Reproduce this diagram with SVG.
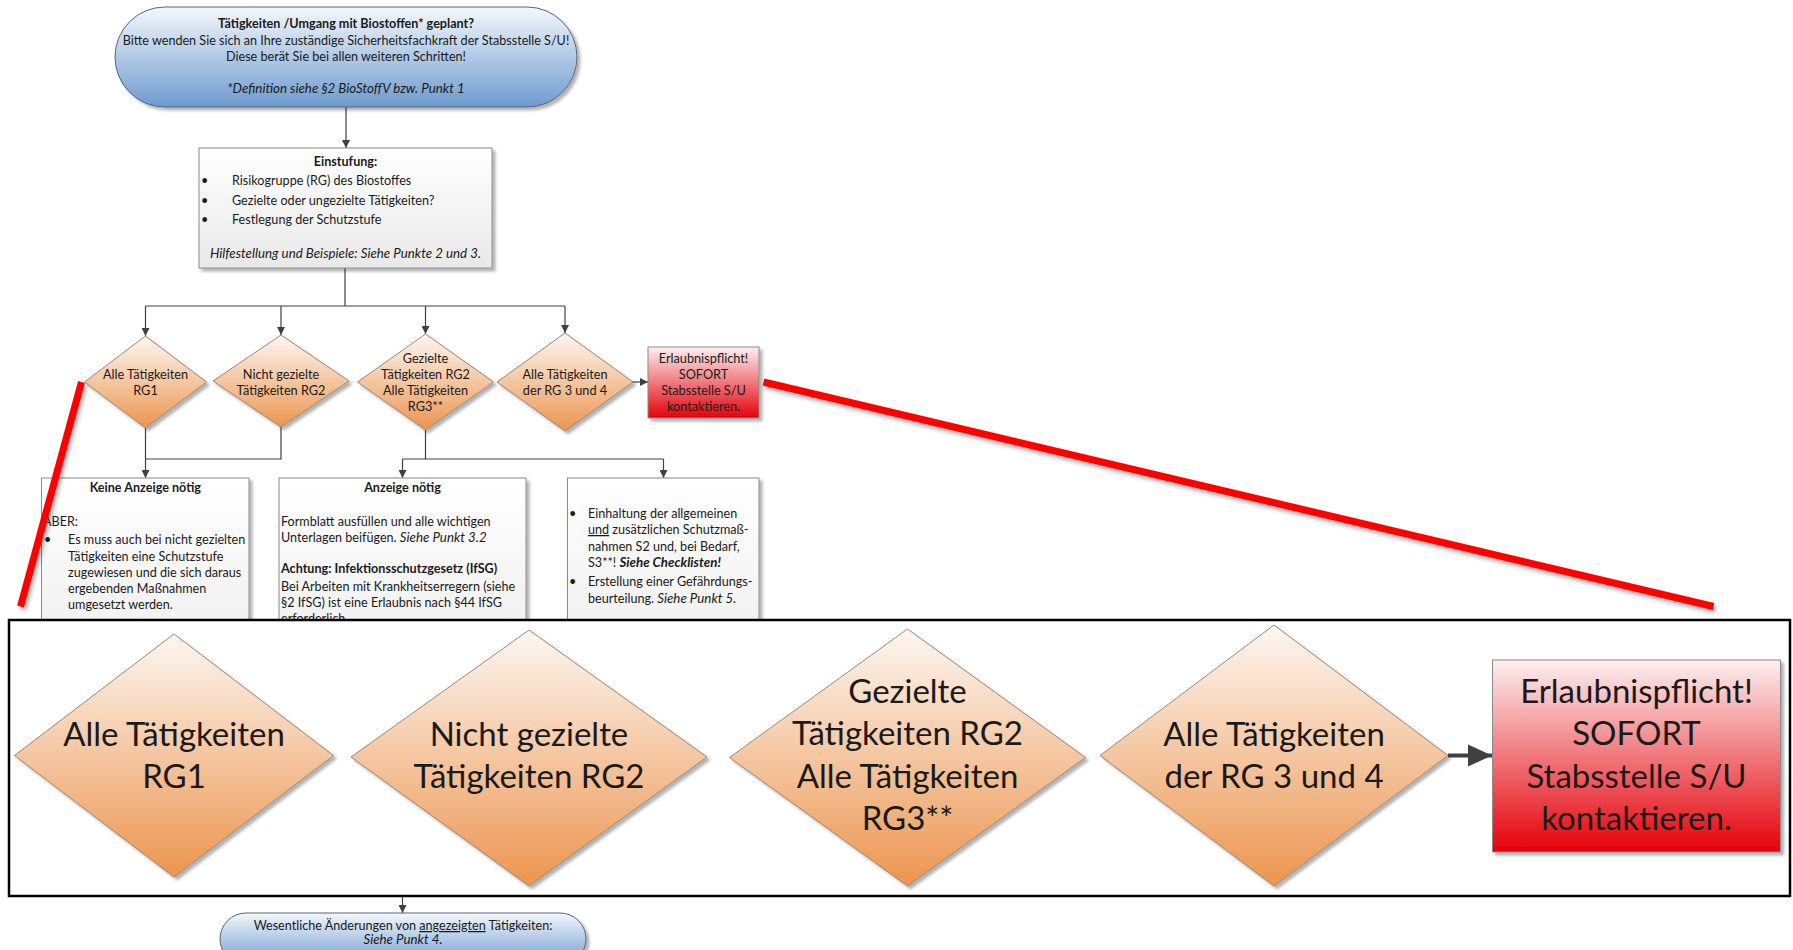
<svg xmlns="http://www.w3.org/2000/svg" width="1793" height="950" viewBox="0 0 1793 950">
<defs>
<linearGradient id="gBlue" x1="0" y1="0" x2="0" y2="1"><stop offset="0" stop-color="#f4f8fc"/><stop offset="1" stop-color="#6e9bcf"/></linearGradient>
<linearGradient id="gOrange" x1="0" y1="0" x2="0" y2="1"><stop offset="0" stop-color="#fdf7f2"/><stop offset="1" stop-color="#ec954f"/></linearGradient>
<linearGradient id="gRed" x1="0" y1="0" x2="0" y2="1"><stop offset="0" stop-color="#fdf0f1"/><stop offset="1" stop-color="#e50008"/></linearGradient>
<linearGradient id="gGrey" x1="0" y1="0" x2="0" y2="1"><stop offset="0" stop-color="#ffffff"/><stop offset="1" stop-color="#e9e9e9"/></linearGradient>
<filter id="shadow" x="-10%" y="-10%" width="130%" height="130%"><feDropShadow dx="3" dy="3" stdDeviation="1.5" flood-color="#000" flood-opacity="0.3"/></filter>
<filter id="lshadow" x="-5%" y="-5%" width="110%" height="115%"><feDropShadow dx="2" dy="3" stdDeviation="2" flood-color="#000" flood-opacity="0.35"/></filter>
<marker id="arr" markerUnits="userSpaceOnUse" markerWidth="8" markerHeight="8" refX="8" refY="4" orient="auto"><path d="M0,0 L8,4 L0,8 z" fill="#404040"/></marker>
<marker id="bigArr" markerUnits="userSpaceOnUse" markerWidth="24" markerHeight="24" refX="24" refY="12" orient="auto"><path d="M0,1 L24,12 L0,23 z" fill="#404040"/></marker>
</defs>
<style>
text{font-family:Lato,"Liberation Sans",sans-serif;fill:#1a1a1a}
.s{font-size:12.6px}
.d{font-size:12.7px}
.b{font-weight:bold}
.i{font-style:italic;font-size:13.3px}
.c{text-anchor:middle}
.big{font-size:33px;text-anchor:middle}
.conn{stroke:#404040;stroke-width:1.2;fill:none}
.box{fill:url(#gGrey);stroke:#8a8a8a;stroke-width:1}
.dia{fill:url(#gOrange);stroke:#9a8775;stroke-width:1}
.red{fill:url(#gRed);stroke:#8a8a8a;stroke-width:1}
.pill{fill:url(#gBlue);stroke:#56657a;stroke-width:1}
.rline{stroke:#ff0000;stroke-width:7;fill:none}
</style>
<rect width="1793" height="950" fill="#fff"/>

<g id="connectors">
<line class="conn" x1="346" y1="107" x2="346" y2="148" marker-end="url(#arr)"/>
<polyline class="conn" points="345,268 345,306"/>
<polyline class="conn" points="145.5,306 565,306"/>
<line class="conn" x1="145.5" y1="306" x2="145.5" y2="336" marker-end="url(#arr)"/>
<line class="conn" x1="281" y1="306" x2="281" y2="335" marker-end="url(#arr)"/>
<line class="conn" x1="425.5" y1="306" x2="425.5" y2="334" marker-end="url(#arr)"/>
<line class="conn" x1="565" y1="306" x2="565" y2="333" marker-end="url(#arr)"/>
<line class="conn" x1="633" y1="382" x2="648" y2="382" marker-end="url(#arr)"/>
<line class="conn" x1="145.5" y1="428" x2="145.5" y2="478" marker-end="url(#arr)"/>
<polyline class="conn" points="281,427 281,459 145.5,459"/>
<polyline class="conn" points="425.5,430 425.5,459"/>
<polyline class="conn" points="402.5,459 663.5,459"/>
<line class="conn" x1="402.5" y1="459" x2="402.5" y2="478" marker-end="url(#arr)"/>
<line class="conn" x1="663.5" y1="459" x2="663.5" y2="478" marker-end="url(#arr)"/>
<line class="conn" x1="402.5" y1="896" x2="402.5" y2="913" marker-end="url(#arr)"/>
</g>

<g id="start">
<rect class="pill" x="115" y="7" width="462" height="100" rx="50" ry="50" filter="url(#shadow)"/>
<text class="s b c" x="346" y="28">Tätigkeiten /Umgang mit Biostoffen* geplant?</text>
<text class="s c" x="346" y="44.5">Bitte wenden Sie sich an Ihre zuständige Sicherheitsfachkraft der Stabsstelle S/U!</text>
<text class="s c" x="346" y="60.5">Diese berät Sie bei allen weiteren Schritten!</text>
<text class="i c" x="346" y="93">*Definition siehe §2 BioStoffV bzw. Punkt 1</text>
</g>

<g id="einstufung">
<rect class="box" x="199" y="148" width="293" height="120" filter="url(#shadow)"/>
<text class="s b c" x="345.5" y="165.5">Einstufung:</text>
<text class="s" x="201" y="185">•</text><text class="s" x="232" y="185">Risikogruppe (RG) des Biostoffes</text>
<text class="s" x="201" y="204.5">•</text><text class="s" x="232" y="204.5">Gezielte oder ungezielte Tätigkeiten?</text>
<text class="s" x="201" y="224">•</text><text class="s" x="232" y="224">Festlegung der Schutzstufe</text>
<text class="i c" x="345.5" y="257.5">Hilfestellung und Beispiele:  Siehe Punkte 2 und 3.</text>
</g>

<g id="d1">
<polygon class="dia" points="145.5,336 206.5,382 145.5,428 84.5,382" filter="url(#shadow)"/>
<text class="d c" x="145.5" y="378.5">Alle Tätigkeiten</text>
<text class="d c" x="145.5" y="394.5">RG1</text>
</g>
<g id="d2">
<polygon class="dia" points="281,335 349,381 281,427 213,381" filter="url(#shadow)"/>
<text class="d c" x="281" y="378.5">Nicht gezielte</text>
<text class="d c" x="281" y="394.5">Tätigkeiten RG2</text>
</g>
<g id="d3">
<polygon class="dia" points="425.5,334 493.5,382 425.5,430 357.5,382" filter="url(#shadow)"/>
<text class="d c" x="425.5" y="362.5">Gezielte</text>
<text class="d c" x="425.5" y="378.5">Tätigkeiten RG2</text>
<text class="d c" x="425.5" y="394.5">Alle Tätigkeiten</text>
<text class="d c" x="425.5" y="410.5">RG3**</text>
</g>
<g id="d4">
<polygon class="dia" points="565,333 633,382 565,431 497,382" filter="url(#shadow)"/>
<text class="d c" x="565" y="378.5">Alle Tätigkeiten</text>
<text class="d c" x="565" y="394.5">der RG 3 und 4</text>
</g>
<g id="erlaubnis">
<rect class="red" x="648" y="347" width="111" height="71" filter="url(#shadow)"/>
<text class="d c" x="703.5" y="362.5">Erlaubnispflicht!</text>
<text class="d c" x="703.5" y="378.5">SOFORT</text>
<text class="d c" x="703.5" y="394.5">Stabsstelle S/U</text>
<text class="d c" x="703.5" y="410.5">kontaktieren.</text>
</g>

<g id="keine-anzeige">
<rect class="box" x="41.5" y="478" width="207.5" height="240" filter="url(#shadow)"/>
<text class="s b c" x="145.3" y="492">Keine Anzeige nötig</text>
<text class="s" x="43" y="526">ABER:</text>
<text class="s" x="44" y="544">•</text>
<text class="s" x="68" y="544">Es muss auch bei nicht gezielten</text>
<text class="s" x="68" y="561">Tätigkeiten eine Schutzstufe</text>
<text class="s" x="68" y="577">zugewiesen und die sich daraus</text>
<text class="s" x="68" y="593">ergebenden Maßnahmen</text>
<text class="s" x="68" y="609">umgesetzt werden.</text>
</g>
<g id="anzeige">
<rect class="box" x="279" y="478" width="247" height="240" filter="url(#shadow)"/>
<text class="s b c" x="402.5" y="492">Anzeige nötig</text>
<text class="s" x="281" y="526">Formblatt ausfüllen und alle wichtigen</text>
<text class="s" x="281" y="542">Unterlagen beifügen. <tspan class="i">Siehe Punkt 3.2</tspan></text>
<text class="s b" x="281" y="573">Achtung: Infektionsschutzgesetz (IfSG)</text>
<text class="s" x="281" y="591">Bei Arbeiten mit Krankheitserregern (siehe</text>
<text class="s" x="281" y="607">§2 IfSG) ist eine Erlaubnis nach §44 IfSG</text>
<text class="s" x="281" y="623">erforderlich.</text>
</g>
<g id="massnahmen">
<rect class="box" x="567.5" y="478" width="191.5" height="240" filter="url(#shadow)"/>
<text class="s" x="569" y="518">•</text>
<text class="s" x="588" y="518">Einhaltung der allgemeinen</text>
<text class="s" x="588" y="534"><tspan text-decoration="underline">und</tspan> zusätzlichen Schutzmaß-</text>
<text class="s" x="588" y="551">nahmen S2 und, bei Bedarf,</text>
<text class="s" x="588" y="567">S3**! <tspan class="b i">Siehe Checklisten!</tspan></text>
<text class="s" x="569" y="585.5">•</text>
<text class="s" x="588" y="585.5">Erstellung einer Gefährdungs-</text>
<text class="s" x="588" y="602.5">beurteilung. <tspan class="i">Siehe Punkt 5.</tspan></text>
</g>

<g id="zoom-inset">
<rect x="9" y="620" width="1781" height="276" fill="#fff" stroke="#000" stroke-width="2.5"/>
<g id="zd1">
<polygon class="dia" points="174,634 333.5,755.5 174,877 14.5,755.5" filter="url(#shadow)"/>
<text class="big" x="174" y="746">Alle Tätigkeiten</text>
<text class="big" x="174" y="788">RG1</text>
</g>
<g id="zd2">
<polygon class="dia" points="529,630 707,757 529,886 351,757" filter="url(#shadow)"/>
<text class="big" x="529" y="746">Nicht gezielte</text>
<text class="big" x="529" y="788">Tätigkeiten RG2</text>
</g>
<g id="zd3">
<polygon class="dia" points="907.5,629 1085.5,757.5 907.5,886 729.5,757.5" filter="url(#shadow)"/>
<text class="big" x="907.5" y="703">Gezielte</text>
<text class="big" x="907.5" y="745">Tätigkeiten RG2</text>
<text class="big" x="907.5" y="788">Alle Tätigkeiten</text>
<text class="big" x="907.5" y="830">RG3**</text>
</g>
<g id="zd4">
<polygon class="dia" points="1274,625 1448,755.5 1274,886 1100,755.5" filter="url(#shadow)"/>
<text class="big" x="1274" y="746">Alle Tätigkeiten</text>
<text class="big" x="1274" y="788">der RG 3 und 4</text>
</g>
<line x1="1448" y1="755.5" x2="1492" y2="755.5" stroke="#404040" stroke-width="4" marker-end="url(#bigArr)"/>
<g id="zerlaubnis">
<rect class="red" x="1492.5" y="660" width="288" height="192" filter="url(#shadow)"/>
<text class="big" x="1636.5" y="703">Erlaubnispflicht!</text>
<text class="big" x="1636.5" y="745">SOFORT</text>
<text class="big" x="1636.5" y="788">Stabsstelle S/U</text>
<text class="big" x="1636.5" y="830">kontaktieren.</text>
</g>
</g>

<g id="callout-lines" filter="url(#lshadow)">
<line class="rline" x1="81.5" y1="382" x2="20.5" y2="606.5"/>
<line class="rline" x1="763.5" y1="382" x2="1713.5" y2="606.5"/>
</g>

<g id="aenderungen">
<rect class="pill" x="220" y="913" width="366" height="52" rx="26" ry="26" filter="url(#shadow)"/>
<text class="s c" x="403" y="930">Wesentliche Änderungen von <tspan text-decoration="underline">angezeigten</tspan> Tätigkeiten:</text>
<text class="i c" x="403" y="944">Siehe Punkt 4.</text>
</g>
</svg>
